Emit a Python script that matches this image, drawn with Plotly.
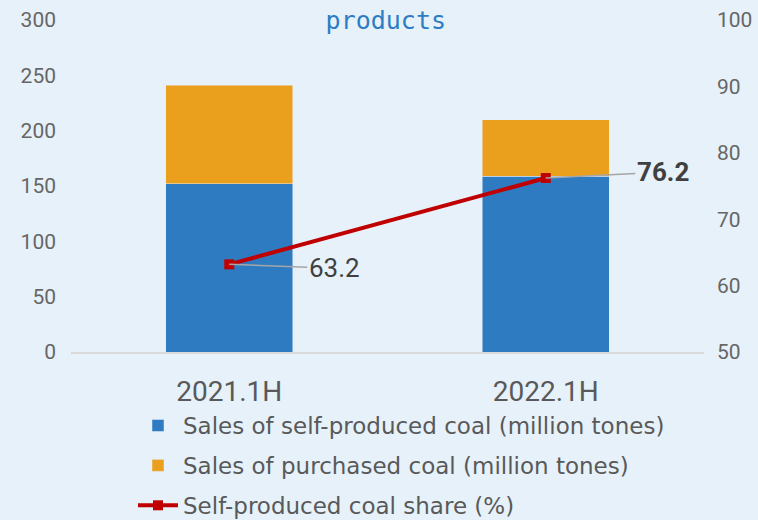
import plotly.graph_objects as go

categories = ["2021.1H", "2022.1H"]
self_produced = [152, 159]
purchased = [89, 51]
share = [63.2, 76.2]
share_labels = ["63.2", "<b>76.2</b>"]

fig = go.Figure()
fig.add_trace(go.Bar(x=categories, y=self_produced, name="Sales of self-produced coal (million tones)",
                     marker_color="#2e7bc1", width=0.4, legendgroup="a"))
fig.add_trace(go.Bar(x=categories, y=purchased, name="Sales of purchased coal (million tones)",
                     marker_color="#eaa01c", width=0.4, legendgroup="b"))
fig.add_trace(go.Scatter(x=categories, y=share, yaxis="y2", name="Self-produced coal share (%)",
                         mode="lines+markers", line=dict(color="#c00000", width=4),
                         marker=dict(symbol="square", size=10, color="#c00000"), legendgroup="c"))

offsets = [(105, 4), (117, -6)]
for c, v, t, (ax, ay) in zip(categories, share, share_labels, offsets):
    fig.add_annotation(x=c, y=v, yref="y2", text=t, showarrow=True, arrowhead=0,
                       arrowcolor="#a6a6a6", arrowwidth=1.5, ax=ax, ay=ay,
                       font=dict(size=26, color="#404040", family="Roboto"))

fig.update_layout(
    width=758, height=520,
    margin=dict(l=71, r=54, t=20, b=168, autoexpand=False),
    paper_bgcolor="#e6f1fa", plot_bgcolor="rgba(0,0,0,0)",
    barmode="stack", bargap=0.6,
    title=dict(text="products", x=0.509, xanchor="center", y=0.961, yanchor="middle",
               font=dict(family="DejaVu Sans Mono", size=25, color="#2e7dc4")),
    xaxis=dict(showline=True, linecolor="#d9d9d9", linewidth=1.5, ticks="", automargin=False,
               tickfont=dict(size=28, color="#595959", family="Roboto"), ticklabelstandoff=14),
    yaxis=dict(range=[0, 300], dtick=50, showgrid=False, zeroline=False, automargin=False,
               tickfont=dict(size=21, color="#666666", family="Roboto"), ticklabelstandoff=14),
    yaxis2=dict(range=[50, 100], dtick=10, overlaying="y", side="right", showgrid=False,
                zeroline=False, automargin=False,
                tickfont=dict(size=21, color="#666666", family="Roboto"),
                ticklabelstandoff=12),
    legend=dict(orientation="v", x=(133 - 71) / 633, xref="paper", xanchor="left",
                y=0.223, yref="container", yanchor="top",
                traceorder="grouped", tracegroupgap=7, bgcolor="rgba(0,0,0,0)",
                itemwidth=40,
                font=dict(size=23, color="#595959", family="DejaVu Sans")),
    showlegend=True,
)

fig.write_html("out.html")
